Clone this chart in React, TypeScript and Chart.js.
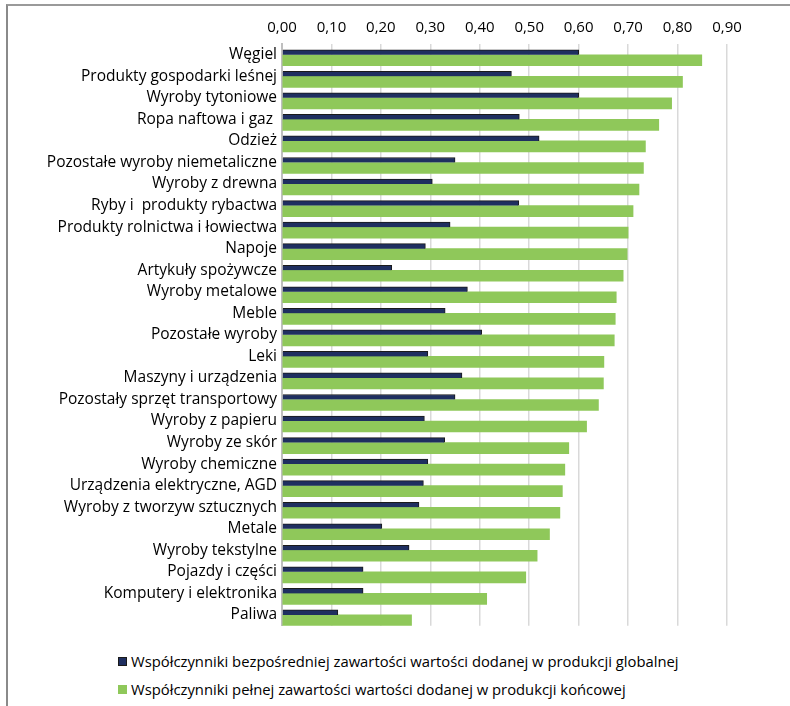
import React, { useEffect, useRef } from "react";
import { Chart, registerables } from "chart.js";

Chart.register(...registerables);

const categories = [
  "Węgiel",
  "Produkty gospodarki leśnej",
  "Wyroby tytoniowe",
  "Ropa naftowa i gaz ",
  "Odzież",
  "Pozostałe wyroby niemetaliczne",
  "Wyroby z drewna",
  "Ryby i  produkty rybactwa",
  "Produkty rolnictwa i łowiectwa",
  "Napoje",
  "Artykuły spożywcze",
  "Wyroby metalowe",
  "Meble",
  "Pozostałe wyroby",
  "Leki",
  "Maszyny i urządzenia",
  "Pozostały sprzęt transportowy",
  "Wyroby z papieru",
  "Wyroby ze skór",
  "Wyroby chemiczne",
  "Urządzenia elektryczne, AGD",
  "Wyroby z tworzyw sztucznych",
  "Metale",
  "Wyroby tekstylne",
  "Pojazdy i części",
  "Komputery i elektronika",
  "Paliwa",
];

const directValues = [
  0.6, 0.464, 0.6, 0.48, 0.52, 0.35, 0.304, 0.479, 0.34, 0.29, 0.222, 0.375,
  0.33, 0.404, 0.295, 0.364, 0.35, 0.288, 0.329, 0.295, 0.286, 0.277, 0.202,
  0.257, 0.164, 0.164, 0.113,
];

const fullValues = [
  0.849, 0.81, 0.788, 0.762, 0.735, 0.731, 0.722, 0.71, 0.7, 0.698, 0.69, 0.676,
  0.674, 0.672, 0.651, 0.65, 0.64, 0.616, 0.58, 0.572, 0.567, 0.562, 0.541,
  0.516, 0.493, 0.414, 0.262,
];

const xTicks = [0, 0.1, 0.2, 0.3, 0.4, 0.5, 0.6, 0.7, 0.8, 0.9];

const seriesLabels = [
  "Współczynniki bezpośredniej zawartości wartości dodanej w produkcji globalnej",
  "Współczynniki pełnej zawartości wartości dodanej w produkcji końcowej",
];

const NAVY = "#1f2f60";
const GREEN = "#8fc85a";
const seriesColors = [NAVY, GREEN];
const FONT = "'Open Sans'";

export default function App() {
  const ref = useRef<HTMLCanvasElement>(null);

  useEffect(() => {
    if (!ref.current) return;
    const chart = new Chart(ref.current, {
      type: "bar",
      data: {
        labels: categories,
        datasets: [
          {
            label: seriesLabels[0],
            data: directValues,
            backgroundColor: NAVY,
            borderColor: "#1a1a1a",
            borderWidth: { top: 1, right: 1, bottom: 0, left: 0 },
            borderSkipped: false,
            barThickness: 5,
          },
          {
            label: seriesLabels[1],
            data: fullValues,
            backgroundColor: GREEN,
            barThickness: 11,
          },
        ],
      },
      options: {
        indexAxis: "y",
        animation: false,
        responsive: true,
        maintainAspectRatio: false,
        layout: { padding: { top: 12, right: 63, bottom: 13, left: 0 } },
        plugins: {
          legend: { display: false },
          tooltip: { enabled: false },
        },
        scales: {
          x: {
            position: "top",
            min: 0,
            max: 0.9,
            afterBuildTicks: (scale: any) => {
              scale.ticks = xTicks.map((v) => ({ value: v }));
            },
            ticks: {
              padding: 7,
              color: "#000",
              font: { family: FONT, size: 15 },
              callback: (v: any) => Number(v).toFixed(2).replace(".", ","),
            },
            grid: { color: "#d9d9d9", lineWidth: 1.5, drawTicks: false },
            border: { display: false },
          },
          y: {
            afterFit: (scale: any) => {
              scale.width = 282;
            },
            ticks: {
              autoSkip: false,
              padding: 5,
              color: "#000",
              font: { family: FONT, size: 15.5 },
            },
            grid: { display: false, drawTicks: false },
            border: { display: true, color: "#bfbfbf", width: 2 },
          },
        },
      },
    } as any);
    return () => chart.destroy();
  }, []);

  return (
    <div
      style={{
        position: "fixed",
        left: 0,
        top: 0,
        width: 790,
        height: 706,
        background: "#fff",
        overflow: "hidden",
        fontFamily: FONT,
      }}
    >
      <div
        style={{
          position: "absolute",
          left: 6,
          top: 4,
          width: 900,
          height: 800,
          borderTop: "2px solid #9a9a9a",
          borderLeft: "2px solid #8a8a8a",
        }}
      />
      <div style={{ position: "absolute", left: 0, top: 0, width: 790, height: 640 }}>
        <canvas ref={ref} />
      </div>
      <div style={{ position: "absolute", left: 118, top: 647, fontSize: 14.8, color: "#000" }}>
        {seriesLabels.map((lbl, i) => (
          <div
            key={i}
            style={{ display: "flex", alignItems: "center", height: 28, whiteSpace: "nowrap" }}
          >
            <span
              style={{
                display: "inline-block",
                width: 9,
                height: 9,
                background: seriesColors[i],
                border: i === 0 ? "1px solid #1a1a1a" : "none",
                boxSizing: "border-box",
                marginRight: 4,
              }}
            />
            <span>{lbl}</span>
          </div>
        ))}
      </div>
    </div>
  );
}
